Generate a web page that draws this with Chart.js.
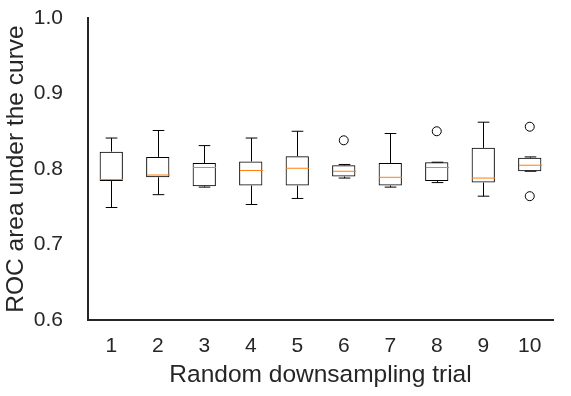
<!DOCTYPE html>
<html>
<head>
<meta charset="utf-8">
<script src="https://cdn.jsdelivr.net/npm/chart.js@4/dist/chart.umd.min.js"></script>
<style>
  html, body { margin: 0; padding: 0; background: #fff; }
  #wrap { width: 571px; height: 396px; }
</style>
</head>
<body>
<div id="wrap"><canvas id="myChart"></canvas></div>
<script>
// box plot stats per trial
const trials = ["1", "2", "3", "4", "5", "6", "7", "8", "9", "10"];
const whiskerLow = [0.749, 0.766, 0.776, 0.753, 0.761, 0.788, 0.776, 0.782, 0.764, 0.797];
const q1 = [0.784, 0.789, 0.777, 0.778, 0.778, 0.790, 0.778, 0.784, 0.782, 0.797];
const median = [0.786, 0.792, 0.802, 0.798, 0.801, 0.797, 0.789, 0.802, 0.788, 0.805];
const q3 = [0.823, 0.816, 0.808, 0.810, 0.817, 0.805, 0.808, 0.809, 0.828, 0.815];
const whiskerHigh = [0.841, 0.851, 0.831, 0.841, 0.850, 0.806, 0.847, 0.809, 0.862, 0.816];
const outliers = [
    { x: "6", y: 0.838 },
    { x: "8", y: 0.850 },
    { x: "10", y: 0.856 },
    { x: "10", y: 0.764 },
];
const yTicks = [0.6, 0.7, 0.8, 0.9, 1.0];

const textColor = "#262626";
const fontFamily = "'Liberation Sans', Arial, sans-serif";

// whiskers + caps, medians on top
const boxPlotPlugin = {
    id: "boxPlotExtras",
    afterDatasetsDraw(chart) {
        const ctx = chart.ctx;
        const x = chart.scales.x;
        const y = chart.scales.y;
        const boxW = x.getPixelForValue(1) - x.getPixelForValue(0);
        const capHalf = boxW * 0.5 * 0.25;
        const boxHalf = boxW * 0.5 * 0.5;
        ctx.save();
        for (let i = 0; i < trials.length; i++) {
            const cx = Math.round(x.getPixelForValue(i)) + 0.5;
            ctx.strokeStyle = "#000";
            ctx.lineWidth = 1;
            ctx.beginPath();
            // lower whisker
            ctx.moveTo(cx, y.getPixelForValue(q1[i]));
            ctx.lineTo(cx, y.getPixelForValue(whiskerLow[i]));
            ctx.moveTo(cx - capHalf, y.getPixelForValue(whiskerLow[i]));
            ctx.lineTo(cx + capHalf, y.getPixelForValue(whiskerLow[i]));
            // upper whisker
            ctx.moveTo(cx, y.getPixelForValue(q3[i]));
            ctx.lineTo(cx, y.getPixelForValue(whiskerHigh[i]));
            ctx.moveTo(cx - capHalf, y.getPixelForValue(whiskerHigh[i]));
            ctx.lineTo(cx + capHalf, y.getPixelForValue(whiskerHigh[i]));
            ctx.stroke();
            // median
            ctx.strokeStyle = "#ff7f0e";
            ctx.beginPath();
            const my = y.getPixelForValue(median[i]);
            ctx.moveTo(cx - boxHalf, my);
            ctx.lineTo(cx + boxHalf, my);
            ctx.stroke();
        }
        ctx.restore();
    },
};

new Chart(document.getElementById("myChart"), {
    type: "bar",
    data: {
        labels: trials,
        datasets: [
            {
                label: "box",
                data: trials.map((t, i) => [q1[i], q3[i]]),
                backgroundColor: "rgba(0,0,0,0)",
                borderColor: "#000",
                borderWidth: 1,
                borderSkipped: false,
                categoryPercentage: 1,
                barPercentage: 0.5,
            },
            {
                type: "scatter",
                label: "outliers",
                data: outliers,
                pointStyle: "circle",
                pointRadius: 4.5,
                pointBorderWidth: 1,
                pointBackgroundColor: "rgba(0,0,0,0)",
                pointBorderColor: "#000",
            },
        ],
    },
    options: {
        responsive: true,
        maintainAspectRatio: false,
        animation: false,
        layout: { padding: { top: 18, right: 18, left: 0, bottom: 0 } },
        plugins: {
            legend: { display: false },
            tooltip: { enabled: false },
        },
        scales: {
            x: {
                type: "category",
                offset: true,
                grid: { display: false, drawTicks: false },
                border: { display: true, color: textColor, width: 2 },
                ticks: {
                    color: textColor,
                    padding: 14,
                    font: { family: fontFamily, size: 21 },
                },
                title: {
                    display: true,
                    text: "Random downsampling trial",
                    color: textColor,
                    padding: 6,
                    font: { family: fontFamily, size: 24.5 },
                },
                afterFit(scale) {
                    scale.height = 76;
                    scale.paddingLeft = 0;
                    scale.paddingRight = 0;
                },
            },
            y: {
                min: 0.6,
                max: 1.0,
                grid: { display: false, drawTicks: false },
                border: { display: true, color: textColor, width: 2 },
                afterBuildTicks(scale) {
                    scale.ticks = yTicks.map(v => ({ value: v }));
                },
                ticks: {
                    color: textColor,
                    padding: 25,
                    font: { family: fontFamily, size: 21 },
                    callback: v => v.toFixed(1),
                },
                title: {
                    display: true,
                    text: "ROC area under the curve",
                    color: textColor,
                    padding: 2,
                    font: { family: fontFamily, size: 24.5 },
                },
                afterFit(scale) {
                    scale.width = 88;
                    scale.paddingTop = 0;
                    scale.paddingBottom = 0;
                },
            },
        },
    },
    plugins: [boxPlotPlugin],
});
</script>
</body>
</html>
